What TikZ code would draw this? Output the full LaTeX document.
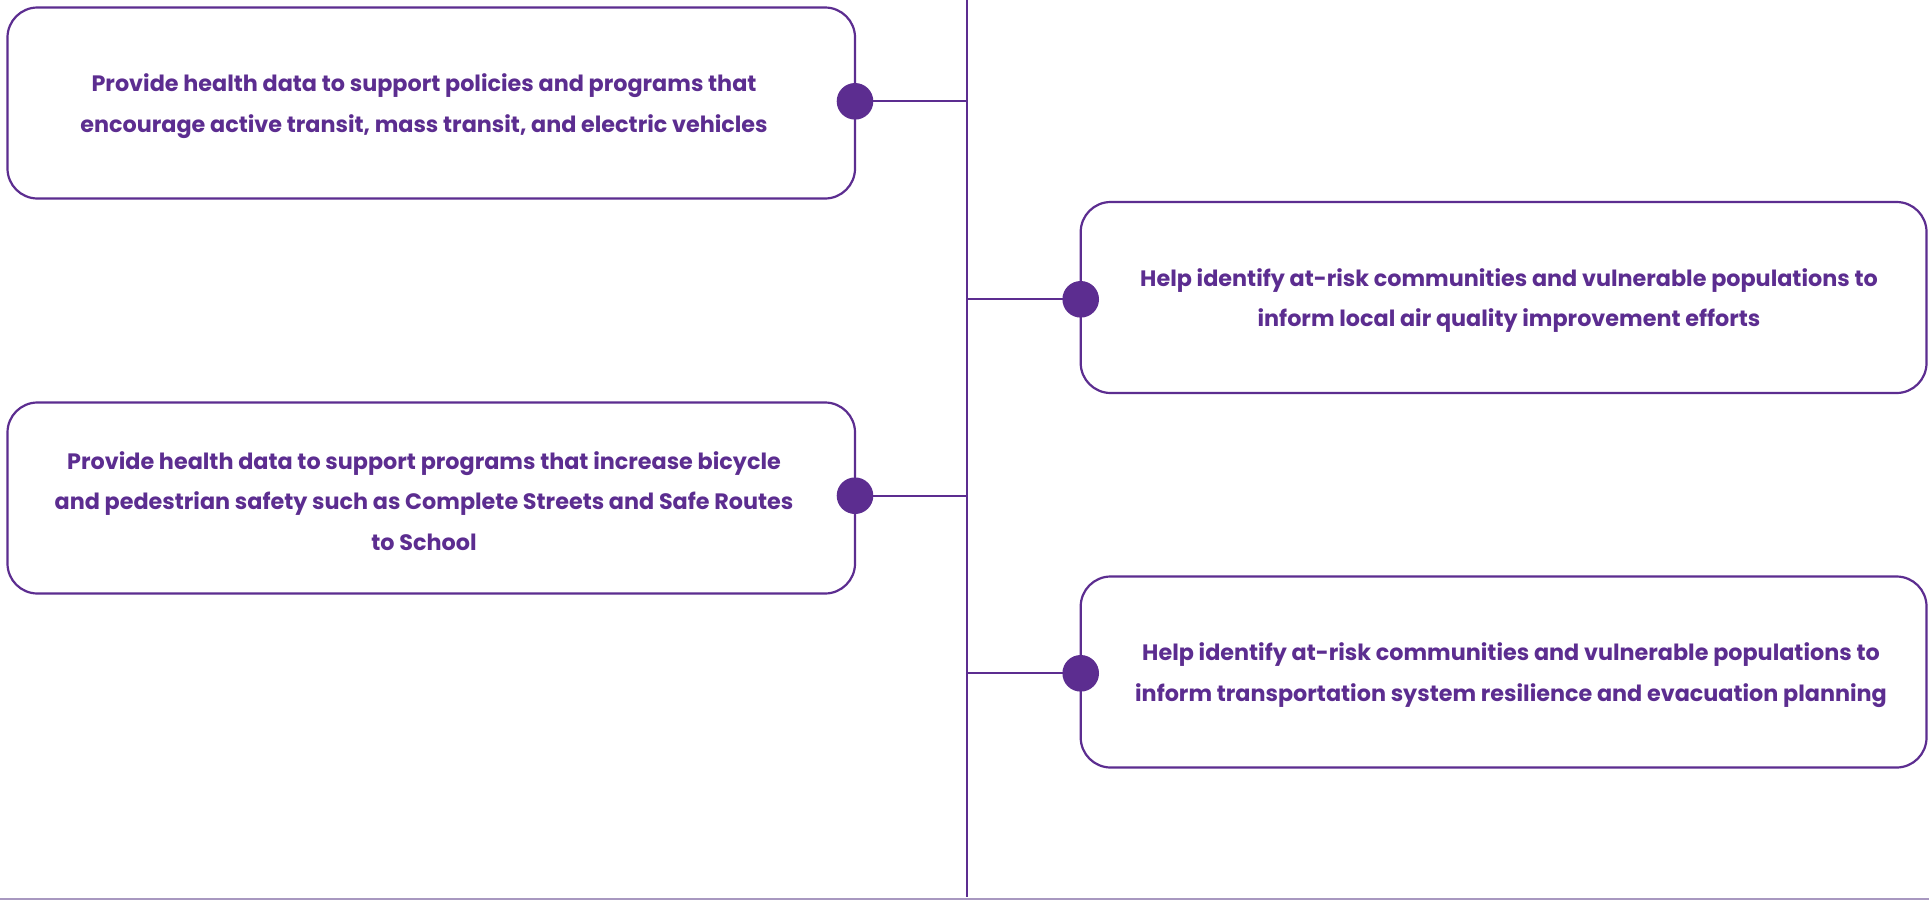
\documentclass[tikz,border=0pt]{standalone}
\usepackage{fontspec}
\setmainfont{Poppins}
\definecolor{pur}{HTML}{5C2D90}
\definecolor{baseln}{HTML}{A898C0}
\begin{document}
\begin{tikzpicture}[x=1pt,y=-1pt,
  card/.style={draw=pur, line width=2.2pt, rounded corners=30pt, minimum height=191pt, inner sep=0pt, fill=white},
  lbl/.style={text=pur, font=\fontsize{22.3}{40.5}\selectfont\bfseries, align=center, inner sep=0pt},
  knob/.style={circle, fill=pur, minimum size=36.6pt, inner sep=0pt},
  wire/.style={draw=pur, line width=2.2pt}]
\useasboundingbox (0,0) rectangle (1929,900);
\fill[white] (0,0) rectangle (1929,900);
% spine
\coordinate (top) at (967,0);
\coordinate (bot) at (967,897);
\draw[wire] (top) -- (bot);
\coordinate (bl) at (0,898.5);
\coordinate (br) at (1929,898.5);
\draw[draw=baseln, line width=2pt] (bl) -- (br);
% cards
\node[card, minimum width=847.5pt] (c1) at (431.25,103) {};
\node[card, minimum width=845.8pt] (c2) at (1503.6,297.5) {};
\node[card, minimum width=847.5pt] (c3) at (431.25,498) {};
\node[card, minimum width=845.8pt] (c4) at (1503.6,672) {};
% connectors
\coordinate (p1) at (855,101.3);
\coordinate (p2) at (1080.7,299.3);
\coordinate (p3) at (855,495.7);
\coordinate (p4) at (1080.7,673.3);
\draw[wire] (p1) -- (p1 -| top);
\draw[wire] (p2) -- (p2 -| top);
\draw[wire] (p3) -- (p3 -| top);
\draw[wire] (p4) -- (p4 -| top);
% knobs
\node[knob] (k1) at (p1) {};
\node[knob] (k2) at (p2) {};
\node[knob] (k3) at (p3) {};
\node[knob] (k4) at (p4) {};
% labels
\node[lbl] (t1) at (424,106) {Provide health data to support policies and programs that\\encourage active transit, mass transit, and electric vehicles};
\node[lbl] (t2) at (1509,300.5) {Help identify at-risk communities and vulnerable populations to\\inform local air quality improvement efforts};
\node[lbl] (t3) at (424,501) {Provide health data to support programs that increase bicycle\\and pedestrian safety such as Complete Streets and Safe Routes\\to School};
\node[lbl] (t4) at (1511,675) {Help identify at-risk communities and vulnerable populations to\\inform transportation system resilience and evacuation planning};
\end{tikzpicture}
\end{document}
